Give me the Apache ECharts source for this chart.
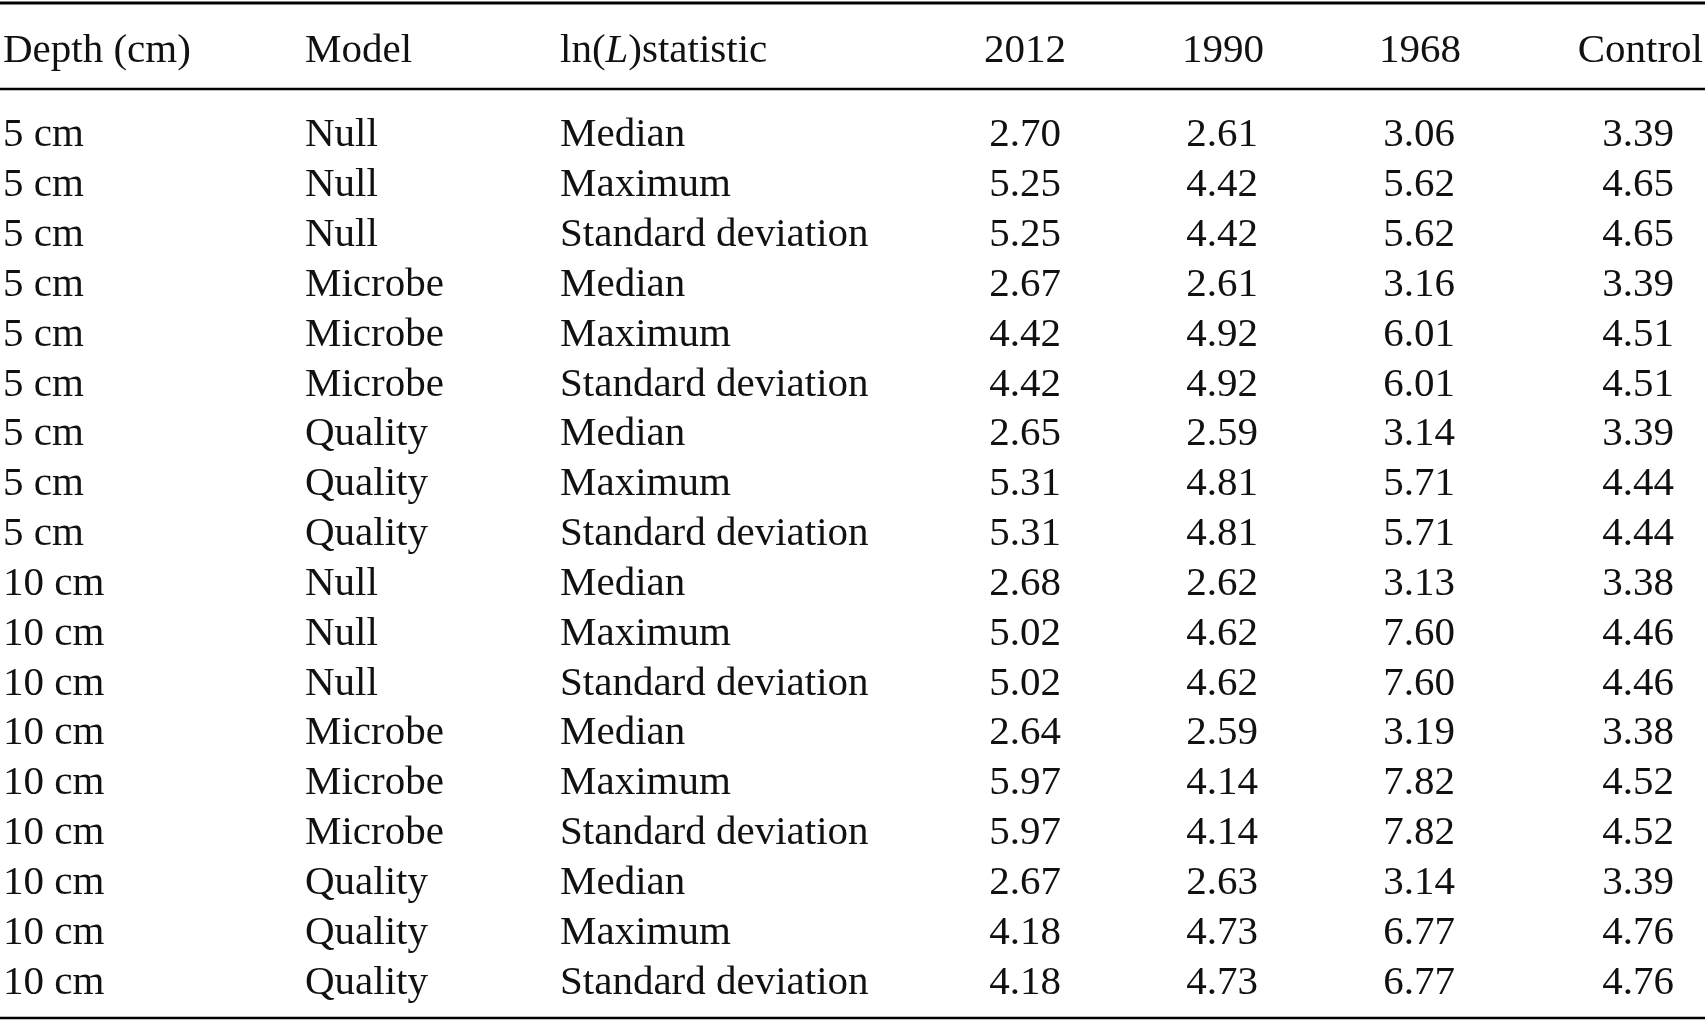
<!DOCTYPE html>
<html>
<head>
<meta charset="utf-8">
<script src="https://cdn.jsdelivr.net/npm/echarts@6/dist/echarts.min.js"></script>
<style>html,body{margin:0;padding:0;background:#fff}#main{width:1705px;height:1021px}</style>
</head>
<body>
<div id="main"></div>
<script>
var myChart = echarts.init(document.getElementById('main'));

const depths = ['5 cm','5 cm','5 cm','5 cm','5 cm','5 cm','5 cm','5 cm','5 cm',
  '10 cm','10 cm','10 cm','10 cm','10 cm','10 cm','10 cm','10 cm','10 cm'];
const models = ['Null','Null','Null','Microbe','Microbe','Microbe','Quality','Quality','Quality',
  'Null','Null','Null','Microbe','Microbe','Microbe','Quality','Quality','Quality'];
const stats = ['Median','Maximum','Standard deviation','Median','Maximum','Standard deviation','Median','Maximum','Standard deviation',
  'Median','Maximum','Standard deviation','Median','Maximum','Standard deviation','Median','Maximum','Standard deviation'];
const v2012 = ['2.70','5.25','5.25','2.67','4.42','4.42','2.65','5.31','5.31','2.68','5.02','5.02','2.64','5.97','5.97','2.67','4.18','4.18'];
const v1990 = ['2.61','4.42','4.42','2.61','4.92','4.92','2.59','4.81','4.81','2.62','4.62','4.62','2.59','4.14','4.14','2.63','4.73','4.73'];
const v1968 = ['3.06','5.62','5.62','3.16','6.01','6.01','3.14','5.71','5.71','3.13','7.60','7.60','3.19','7.82','7.82','3.14','6.77','6.77'];
const vControl = ['3.39','4.65','4.65','3.39','4.51','4.51','3.39','4.44','4.44','3.38','4.46','4.46','3.38','4.52','4.52','3.39','4.76','4.76'];

const font = '"Liberation Serif", "DejaVu Serif", serif';
const fs = 41;
const rowY0 = 135.5, rowDy = 49.85;
const textCols = [[depths, 3], [models, 305], [stats, 560]];
const numCols = [[v2012, 1061], [v1990, 1258], [v1968, 1455], [vControl, 1674]];

const els = [];
function txt(x, y, t, align, rich) {
  els.push({ type: 'text', x: x, y: y, style: {
    text: t, font: fs + 'px ' + font, fill: '#111', align: align, verticalAlign: 'middle', rich: rich
  }});
}
function line(y, w) {
  els.push({ type: 'line', shape: { x1: 0, y1: y, x2: 1705, y2: y }, style: { stroke: '#000', lineWidth: w } });
}
line(3, 3); line(89, 2.5); line(1018, 2.5);

const hy = 51.5;
txt(3, hy, 'Depth (cm)', 'left');
txt(305, hy, 'Model', 'left');
txt(560, hy, '{n|ln(}{i|L}{n|)statistic}', 'left', {
  n: { font: fs + 'px ' + font, fill: '#111' },
  i: { font: 'italic ' + fs + 'px ' + font, fill: '#111' }
});
txt(1066, hy, '2012', 'right');
txt(1264, hy, '1990', 'right');
txt(1461, hy, '1968', 'right');
txt(1703, hy, 'Control', 'right');

textCols.forEach(function (c) {
  c[0].forEach(function (t, i) { txt(c[1], rowY0 + i * rowDy, t, 'left'); });
});
numCols.forEach(function (c) {
  c[0].forEach(function (t, i) { txt(c[1], rowY0 + i * rowDy, t, 'right'); });
});

myChart.setOption({ backgroundColor: '#fff', graphic: { elements: els } });
</script>
</body>
</html>
